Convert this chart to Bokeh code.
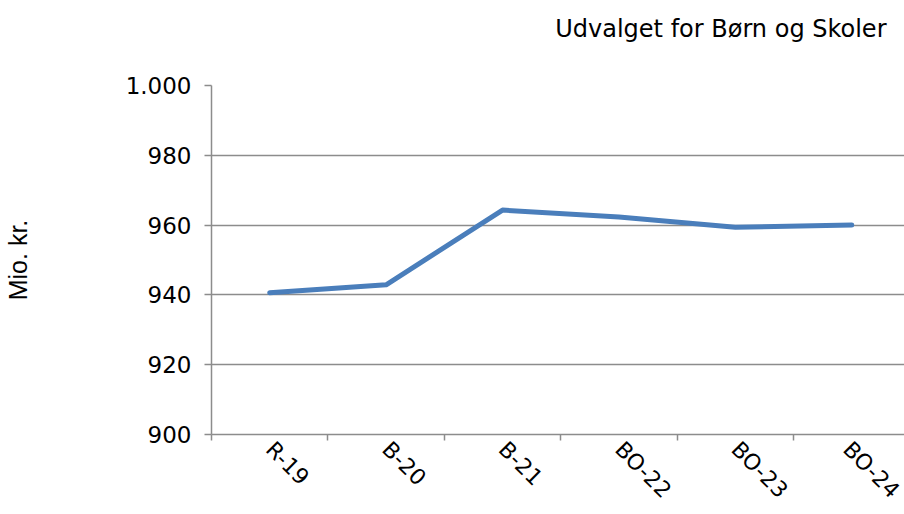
from bokeh.plotting import figure
from bokeh.models import Range1d, FixedTicker, Title, LinearAxis
from bokeh.embed import file_html
from bokeh.resources import INLINE
import math

categories = ["R-19", "B-20", "B-21", "BO-22", "BO-23", "BO-24"]
values = [940.6, 942.9, 964.3, 962.3, 959.4, 960.0]
y_ticks = [900, 920, 940, 960, 980, 1000]
y_tick_labels = ["900", "920", "940", "960", "980", "1.000"]
title_text = "Udvalget for Børn og Skoler"
y_label = "Mio. kr."

xs = list(range(len(categories)))
GRAY = "#8c8c8c"

W, H = 904, 514
LEFT, TOP, BOTTOM = 211, 85, 79

p = figure(width=W, height=H, output_backend="svg", toolbar_location=None,
           x_range=Range1d(-0.5, 5.453), y_range=Range1d(900, 1000),
           min_border_left=LEFT, min_border_right=0, min_border_top=TOP,
           min_border_bottom=BOTTOM)
p.outline_line_color = None
p.background_fill_color = "white"
p.border_fill_color = "white"

# invisible spacer axis above the frame, so that the title sits higher
spacer = LinearAxis(ticker=FixedTicker(ticks=[0], minor_ticks=[]),
                    major_label_overrides={0: ""},
                    major_label_text_font_size="1px", major_label_text_alpha=0,
                    axis_line_color=None, major_tick_line_color=None,
                    minor_tick_line_color=None, major_tick_out=43,
                    major_tick_in=0, minor_tick_out=0, major_label_standoff=0,
                    axis_label_standoff=0)
p.add_layout(spacer, "above")

t = Title(text=title_text, align="right", text_font="DejaVu Sans",
          text_font_size="24px", text_font_style="normal", text_color="#000000",
          standoff=0, offset=18)
p.add_layout(t, "above")

p.line(xs, values, line_color="#4a7ebb", line_width=5, line_join="round", line_cap="round")

# x axis (the one below the frame)
xa = p.below[0]
xa.ticker = FixedTicker(ticks=xs, minor_ticks=[i - 0.5 for i in range(len(categories) + 1)])
xa.major_label_overrides = {i: c for i, c in zip(xs, categories)}
xa.major_label_orientation = -math.pi / 4
xa.major_tick_line_color = None
xa.major_tick_in = 0
xa.major_tick_out = 0
xa.minor_tick_in = 0
xa.minor_tick_out = 6
xa.minor_tick_line_color = GRAY
xa.minor_tick_line_width = 1.5
xa.axis_line_color = GRAY
xa.axis_line_width = 1.5
xa.major_label_text_font = "DejaVu Sans"
xa.major_label_text_font_size = "22px"
xa.major_label_text_color = "#000000"
xa.major_label_standoff = 5

# y axis
ya = p.left[0]
ya.ticker = FixedTicker(ticks=y_ticks, minor_ticks=[])
ya.major_label_overrides = {v: s for v, s in zip(y_ticks, y_tick_labels)}
ya.major_tick_in = 0
ya.major_tick_out = 7
ya.major_tick_line_color = GRAY
ya.major_tick_line_width = 1.5
ya.axis_line_color = GRAY
ya.axis_line_width = 1.5
ya.major_label_text_font = "DejaVu Sans"
ya.major_label_text_font_size = "23px"
ya.major_label_text_color = "#000000"
ya.major_label_standoff = 13
ya.axis_label = y_label
ya.axis_label_text_font = "Liberation Sans"
ya.axis_label_text_font_size = "25px"
ya.axis_label_text_font_style = "normal"
ya.axis_label_text_color = "#000000"
ya.axis_label_standoff = 91

p.xgrid.grid_line_color = None
p.ygrid.grid_line_color = GRAY
p.ygrid.grid_line_width = 1.5

open("out.html", "w").write(file_html(p, INLINE))
